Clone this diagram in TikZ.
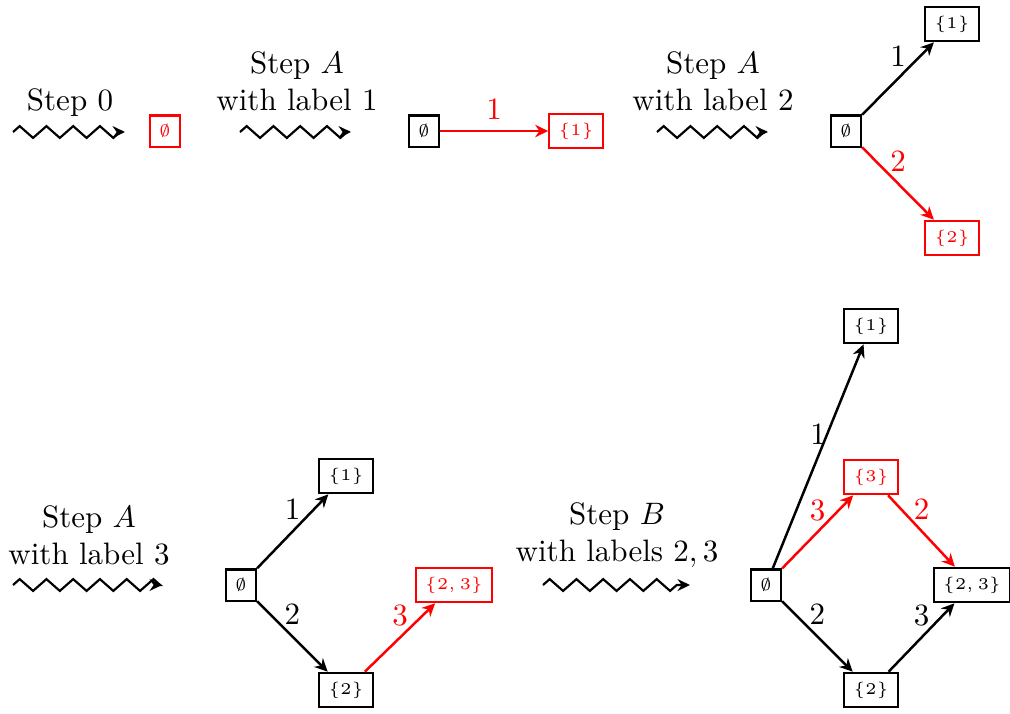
\RequirePackage{fix-cm}
\documentclass[tikz,border=0pt]{standalone}
\usetikzlibrary{arrows.meta,decorations.pathmorphing}
\begin{document}
\begin{tikzpicture}[x=0.3226pt,y=-0.3226pt,
  box/.style={draw, line width=0.72pt, inner xsep=2.9pt, inner ysep=2.9pt,
    font=\fontsize{5.3}{6}\selectfont},
  hot/.style={red},
  edge/.style={thick, -{Stealth[length=4.2pt,width=4pt]}},
  snakearrow/.style={line width=0.7pt, decorate,
    decoration={zigzag, segment length=8.63pt, amplitude=1.9pt},
    -{Stealth[length=4pt,width=3.8pt]}},
  steptext/.style={align=center}]
\useasboundingbox (0,0) rectangle (1010,713);

% ---------- Row 1 ----------
\node (t0) at (70,103) {Step $0$};
\coordinate (s0a) at (13,132);
\coordinate (s0b) at (125,132);
\draw[snakearrow] (s0a) -- (s0b);
\node[box,hot] (n0) at (165,131) {$\emptyset$};

\node[steptext] (t1) at (297,81) {Step $A$\\with label $1$};
\coordinate (s1a) at (240,132);
\coordinate (s1b) at (351,132);
\draw[snakearrow] (s1a) -- (s1b);
\node[box] (a0) at (424,131) {$\emptyset$};
\node[box,hot] (a1) at (576,131) {$\{1\}$};
\draw[edge,hot] (a0) -- node[above] {$1$} (a1);

\node[steptext] (t2) at (713,81) {Step $A$\\with label $2$};
\coordinate (s2a) at (657,132);
\coordinate (s2b) at (768,132);
\draw[snakearrow] (s2a) -- (s2b);
\node[box] (b0) at (846,131) {$\emptyset$};
\node[box] (b1) at (952,24) {$\{1\}$};
\node[box,hot] (b2) at (952,238) {$\{2\}$};
\draw[edge] (b0) -- node[above] {$1$} (b1);
\draw[edge,hot] (b0) -- node[above] {$2$} (b2);

% ---------- Row 2 ----------
\node[steptext] (t3) at (89,535) {Step $A$\\with label $3$};
\coordinate (s3a) at (13,585);
\coordinate (s3b) at (162,585);
\draw[snakearrow] (s3a) -- (s3b);
\node[box] (c0) at (241,585) {$\emptyset$};
\node[box] (c1) at (346,476) {$\{1\}$};
\node[box] (c2) at (346,690) {$\{2\}$};
\node[box,hot] (c23) at (454,585) {$\{2,3\}$};
\draw[edge] (c0) -- node[above] {$1$} (c1);
\draw[edge] (c0) -- node[above] {$2$} (c2);
\draw[edge,hot] (c2) -- node[above] {$3$} (c23);

\node[steptext] (t4) at (617,535) {Step $B$\\with labels $2,3$};
\coordinate (s4a) at (543,585);
\coordinate (s4b) at (690,585);
\draw[snakearrow] (s4a) -- (s4b);
\node[box] (d0) at (766,585) {$\emptyset$};
\node[box] (d1) at (871,326) {$\{1\}$};
\node[box,hot] (d3) at (871,477) {$\{3\}$};
\node[box] (d23) at (972,585) {$\{2,3\}$};
\node[box] (d2) at (871,690) {$\{2\}$};
\draw[edge] (d0) -- node[above] {$1$} (d1);
\draw[edge,hot] (d0) -- node[above] {$3$} (d3);
\draw[edge,hot] (d3) -- node[above] {$2$} (d23);
\draw[edge] (d0) -- node[above] {$2$} (d2);
\draw[edge] (d2) -- node[above] {$3$} (d23);
\end{tikzpicture}
\end{document}
